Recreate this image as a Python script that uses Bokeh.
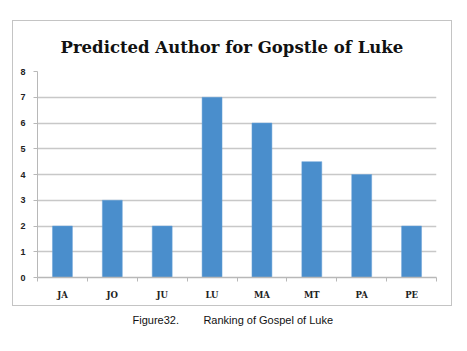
from bokeh.plotting import figure
from bokeh.models import FixedTicker, Title, Range1d
from bokeh.embed import file_html
from bokeh.resources import INLINE

authors = ["JA", "JO", "JU", "LU", "MA", "MT", "PA", "PE"]
scores = [2, 3, 2, 7, 6, 4.5, 4, 2]
y_ticks = [0, 1, 2, 3, 4, 5, 6, 7, 8]
title_text = "Predicted Author for Gopstle of Luke"
caption_text = "Figure32.\u00a0\u00a0\u00a0\u00a0\u00a0\u00a0\u00a0\u00a0Ranking of Gospel of Luke"

W, H = 467, 351
FL, FR, FT, FB = 37, 436, 71, 277  # frame edges in canvas pixels

xs = [i + 0.5 for i in range(len(authors))]

p = figure(width=W, height=H, output_backend="svg", toolbar_location=None,
           x_range=Range1d(0, len(authors)), y_range=Range1d(0, 8),
           min_border_left=FL, min_border_right=W - FR, min_border_top=FT,
           min_border_bottom=H - FB)
p.outline_line_color = None
p.background_fill_color = "white"
p.border_fill_color = None

# chart-area border drawn as page styling behind the transparent canvas border
box_col = "#c4c4c4"
p.styles = {
    "background": (
        f"linear-gradient({box_col},{box_col}) 12px 20px / 440px 1px no-repeat, "
        f"linear-gradient({box_col},{box_col}) 12px 305px / 440px 1px no-repeat, "
        f"linear-gradient({box_col},{box_col}) 12px 20px / 1px 286px no-repeat, "
        f"linear-gradient({box_col},{box_col}) 451px 20px / 1px 286px no-repeat, white"
    )
}

p.vbar(x=xs, top=scores, width=0.4, fill_color="#4a8ecc", line_color="#6aa3d8",
       line_width=0.5)

# y axis
p.yaxis.ticker = FixedTicker(ticks=y_ticks)
p.yaxis.axis_line_color = "#b8b8b8"
p.yaxis.major_tick_line_color = "#b8b8b8"
p.yaxis.major_tick_out = 4
p.yaxis.major_tick_in = 0
p.yaxis.minor_tick_line_color = None
p.yaxis.major_label_text_font = "Liberation Sans"
p.yaxis.major_label_text_font_style = "bold"
p.yaxis.major_label_text_font_size = "9px"
p.yaxis.major_label_text_color = "#222222"
p.yaxis.major_label_standoff = 8

# x axis: labels at centres, ticks at boundaries
p.xaxis.ticker = FixedTicker(ticks=xs, minor_ticks=list(range(len(authors) + 1)))
p.xaxis.major_label_overrides = {x: a for x, a in zip(xs, authors)}
p.xaxis.major_tick_line_color = None
p.xaxis.minor_tick_line_color = "#b8b8b8"
p.xaxis.minor_tick_out = 4
p.xaxis.minor_tick_in = 0
p.xaxis.axis_line_color = "#b8b8b8"
p.xaxis.axis_line_width = 1.5
p.xaxis.major_label_text_font = "DejaVu Serif"
p.xaxis.major_label_text_font_style = "bold"
p.xaxis.major_label_text_font_size = "8.5px"
p.xaxis.major_label_text_color = "#222222"
p.xaxis.major_label_standoff = 6

p.xgrid.grid_line_color = None
p.ygrid.ticker = FixedTicker(ticks=y_ticks)
p.ygrid.grid_line_color = "#c8c8c8"
p.ygrid.grid_line_width = 1.6

p.add_layout(Title(text=title_text, align="left", text_font="DejaVu Serif",
                   text_font_style="bold", text_font_size="16.5px",
                   text_color="#111111", standoff=30, offset=23), "above")
p.add_layout(Title(text=caption_text, align="left", text_font="Liberation Sans",
                   text_font_style="normal", text_font_size="11px",
                   text_color="#111111", standoff=18, offset=95), "below")

open("out.html", "w").write(file_html(p, INLINE))
